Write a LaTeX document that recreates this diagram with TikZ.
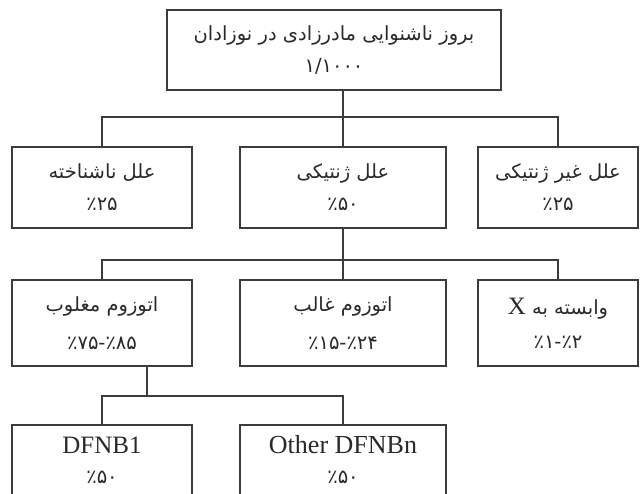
\documentclass[tikz,border=0pt]{standalone}
\usepackage{fontspec}
\setmainfont{Liberation Serif}
\newfontfamily\fafont[Script=Arabic]{DejaVu Sans}
\TeXXeTstate=1
\definecolor{linec}{HTML}{3C3C3C}
\definecolor{textc}{HTML}{2A2A2A}
\begin{document}
\begin{tikzpicture}[x=1pt,y=-1pt,
  box/.style={draw=linec, line width=1.1pt, rectangle, inner sep=0pt, align=center, text=textc, font=\fafont\fontsize{19.5}{22}\selectfont},
  conn/.style={draw=linec, line width=1.1pt}]
\useasboundingbox[fill=white] (0,0) rectangle (642,493);
% top
\node[box, minimum width=334pt, minimum height=80pt] (top) at (334,50)
  {\beginR بروز ناشنوایی مادرزادی در نوزادان\endR\\[10pt]۱/۱۰۰۰};
% row 2
\node[box, minimum width=180pt, minimum height=81pt] (unk) at (102,187.5)
  {\beginR علل ناشناخته\endR\\[10pt]٪۲۵};
\node[box, minimum width=206pt, minimum height=81pt] (gen) at (343,187.5)
  {\beginR علل ژنتیکی\endR\\[10pt]٪۵۰};
\node[box, minimum width=160pt, minimum height=81pt] (ngen) at (558,187.5)
  {\beginR علل غیر ژنتیکی\endR\\[10pt]٪۲۵};
% row 3
\node[box, minimum width=180pt, minimum height=86pt] (ar) at (102,323)
  {\beginR اتوزوم مغلوب\endR\\[16pt]٪۸۵-٪۷۵};
\node[box, minimum width=206pt, minimum height=86pt] (ad) at (343,323)
  {\beginR اتوزوم غالب\endR\\[16pt]٪۲۴-٪۱۵};
\node[box, minimum width=160pt, minimum height=86pt] (xl) at (558,323)
  {\beginR وابسته به {\rmfamily\fontsize{25}{28}\selectfont X}\endR\\[12pt]٪۲-٪۱};
% row 4
\node[box, minimum width=180pt, minimum height=70pt] (d1) at (102,460)
  {{\rmfamily\fontsize{25}{28}\selectfont DFNB1}\\[8pt]٪۵۰};
\node[box, minimum width=206pt, minimum height=70pt] (oth) at (343,460)
  {{\rmfamily\fontsize{26}{28}\selectfont Other DFNBn}\\[8pt]٪۵۰};
% bus coordinates
\coordinate (b1) at (0,117);
\coordinate (b2) at (0,260);
\coordinate (b3) at (0,396);
\coordinate (s3) at (147,0);
% connectors
\draw[conn] (top.south -| gen.north) -- (gen.north);
\draw[conn] (unk.north) -- (unk.north |- b1) -- (ngen.north |- b1) -- (ngen.north);
\draw[conn] (gen.south) -- (ad.north);
\draw[conn] (ar.north) -- (ar.north |- b2) -- (xl.north |- b2) -- (xl.north);
\draw[conn] (ar.south -| s3) -- (s3 |- b3);
\draw[conn] (d1.north) -- (d1.north |- b3) -- (oth.north |- b3) -- (oth.north);
\end{tikzpicture}
\end{document}
